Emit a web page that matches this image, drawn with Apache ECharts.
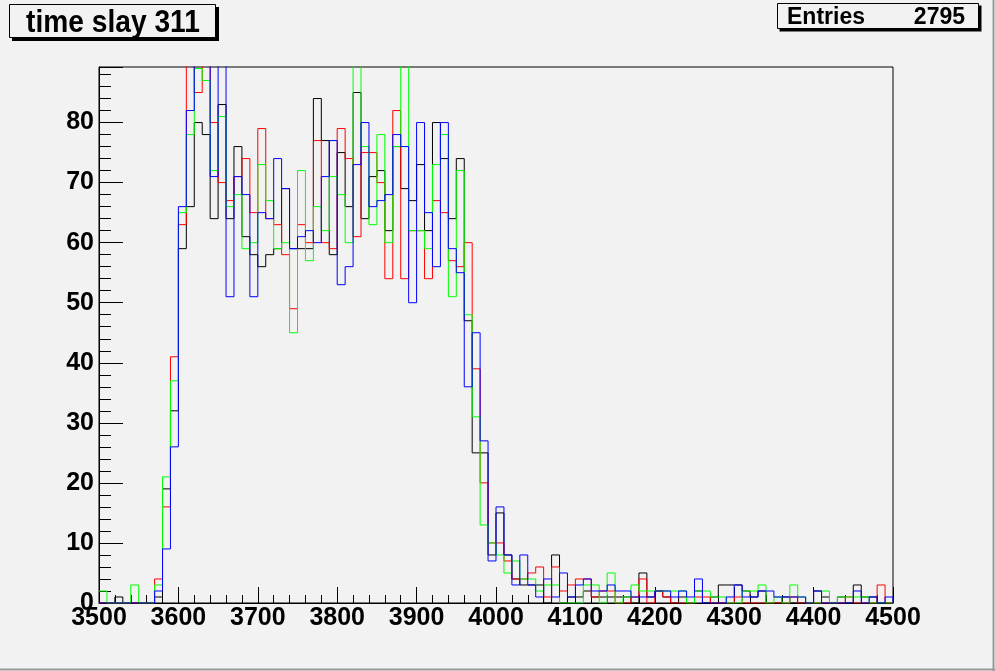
<!DOCTYPE html>
<html><head><meta charset="utf-8">
<script src="https://cdn.jsdelivr.net/npm/echarts@6/dist/echarts.min.js"></script>
<style>html,body{margin:0;padding:0;background:#f2f2f2;}#c{width:995px;height:671px;}</style>
</head><body><div id="c"></div>
<script>
// Histogram binning: 100 bins of width 10 from 3500 to 4500
const binStart = 3500;
const binWidth = 10;
const titleText = 'time slay 311';
const statsLabel = 'Entries';
const statsValue = '2795';

const blackCounts = [0,0,1,0,0,0,0,1,19,32,
 59,66,80,78,64,83,64,76,61,58,
 56,58,59,69,59,59,59,84,77,58,
 75,66,85,64,71,72,62,76,69,67,
 73,62,80,74,64,74,47,25,25,8,
 15,8,4,3,3,3,0,8,0,1,
 1,2,1,1,1,1,1,0,5,1,
 2,1,0,1,0,2,0,1,3,3,
 3,2,1,2,0,0,1,0,0,0,
 2,1,0,1,0,3,1,1,0,0];

const redCounts = [0,0,0,0,0,0,0,4,16,41,
 63,92,85,92,80,70,67,71,74,65,
 79,64,63,58,49,63,60,77,60,59,
 79,74,61,75,75,70,54,82,54,62,
 62,54,67,65,57,56,60,39,20,10,
 10,7,4,4,5,6,1,6,2,3,
 4,4,1,2,2,0,0,1,4,0,
 2,1,0,0,0,1,1,0,0,0,
 1,0,0,0,0,0,0,1,0,0,
 0,0,0,0,1,0,0,0,3,0];

const greenCounts = [2,0,0,0,3,0,0,3,21,37,
 65,78,89,87,72,81,66,68,59,60,
 73,67,59,60,45,72,57,66,62,71,
 68,60,92,76,63,78,60,76,92,62,
 62,59,73,78,51,72,48,31,13,10,
 8,5,7,4,4,2,3,3,0,0,
 0,3,3,0,5,0,1,3,2,2,
 2,2,2,2,0,2,2,1,1,0,
 0,2,2,3,0,1,0,3,1,0,
 0,2,0,1,1,1,1,0,0,0];

const blueCounts = [0,0,0,0,0,0,0,2,9,26,
 66,82,92,92,71,92,51,71,68,51,
 65,64,74,69,59,61,62,60,71,77,
 53,56,73,80,66,67,68,78,76,50,
 80,65,56,80,59,55,36,45,27,7,
 16,8,3,8,3,1,4,1,5,1,
 3,4,2,2,3,2,2,1,1,1,
 2,2,1,2,1,4,0,0,0,1,
 3,1,1,2,2,1,1,1,1,0,
 2,0,0,0,0,2,0,1,0,1];

const seriesList = [
  {name:'black', counts: blackCounts, color:'#000000'},
  {name:'red', counts: redCounts, color:'#ff0000'},
  {name:'green', counts: greenCounts, color:'#00ff00'},
  {name:'blue', counts: blueCounts, color:'#0000ff'}
];

function stepData(counts){
  const d = [];
  counts.forEach((v,k)=>d.push([binStart + k*binWidth, v]));
  const end = binStart + counts.length*binWidth;
  d.push([end, counts[counts.length-1]]);
  d.push([end, 0]);
  return d;
}

const FONT = "'Liberation Sans', Arial, Helvetica, sans-serif";
const chart = echarts.init(document.getElementById('c'), null, {renderer:'canvas'});
const yMax = 89.25;
chart.setOption({
  backgroundColor:'#f2f2f2',
  animation:false,
  grid:{left:99, top:67, width:794, height:536, show:true, borderColor:'#000', borderWidth:1, backgroundColor:'#f2f2f2'},
  xAxis:{
    type:'value', min:3500, max:4500, interval:100,
    axisLine:{show:true, lineStyle:{color:'#000', width:1}},
    axisTick:{show:true, inside:true, length:16, lineStyle:{color:'#000'}},
    minorTick:{show:true, splitNumber:5, length:8, lineStyle:{color:'#000'}},
    axisLabel:{show:true, fontSize:25, fontWeight:'bold', fontFamily:FONT, color:'#000', margin:3,
      showMinLabel:true, showMaxLabel:true, formatter: v => String(Math.round(v))},
    splitLine:{show:false}, minorSplitLine:{show:false}
  },
  yAxis:[
    {type:'value', min:0, max:yMax, interval:10, position:'left',
     axisLine:{show:true, lineStyle:{color:'#000', width:1}},
     axisTick:{show:true, inside:true, length:24, lineStyle:{color:'#000'}},
     axisLabel:{show:true, fontSize:25, fontWeight:'bold', fontFamily:FONT, color:'#000', margin:5,
       formatter: v => (Math.abs(v % 10) < 1e-6 ? String(v) : '')},
     splitLine:{show:false}},
    {type:'value', min:0, max:yMax, interval:2, position:'left', offset:0,
     axisLine:{show:false},
     axisTick:{show:true, inside:true, length:12, lineStyle:{color:'#000'}},
     axisLabel:{show:false}, splitLine:{show:false}}
  ],
  series: seriesList.map(s=>({
    name:s.name, type:'line', step:'end', xAxisIndex:0, yAxisIndex:0,
    data: stepData(s.counts), showSymbol:false, symbol:'none', silent:true, clip:true,
    lineStyle:{color:s.color, width:1}, itemStyle:{color:s.color}
  })),
  graphic:[
    {type:'rect', shape:{x:12, y:7, width:207, height:34}, style:{fill:'#000'}, z:100},
    {type:'rect', shape:{x:9.5, y:4.5, width:206, height:33}, style:{fill:'#f2f2f2', stroke:'#000', lineWidth:1}, z:101},
    {type:'text', x:113, y:23, scaleX:0.88, z:102,
     style:{text:titleText, font:"bold 32px "+FONT, fill:'#000', textAlign:'center', textVerticalAlign:'middle'}},
    {type:'rect', shape:{x:779.5, y:5.5, width:202, height:26}, style:{fill:'#000'}, z:100},
    {type:'rect', shape:{x:777.5, y:3.5, width:201, height:25}, style:{fill:'#f2f2f2', stroke:'#000', lineWidth:1}, z:101},
    {type:'text', x:787, y:18, z:102, style:{text:statsLabel, font:"bold 23px "+FONT, fill:'#000', textAlign:'left', textVerticalAlign:'middle'}},
    {type:'text', x:965, y:18, z:102, style:{text:statsValue, font:"bold 23px "+FONT, fill:'#000', textAlign:'right', textVerticalAlign:'middle'}},
    {type:'line', shape:{x1:993.5, y1:0, x2:993.5, y2:671}, style:{stroke:'#999', lineWidth:2}, z:100},
    {type:'line', shape:{x1:0, y1:669.5, x2:995, y2:669.5}, style:{stroke:'#999', lineWidth:2}, z:100}
  ]
});
</script></body></html>
